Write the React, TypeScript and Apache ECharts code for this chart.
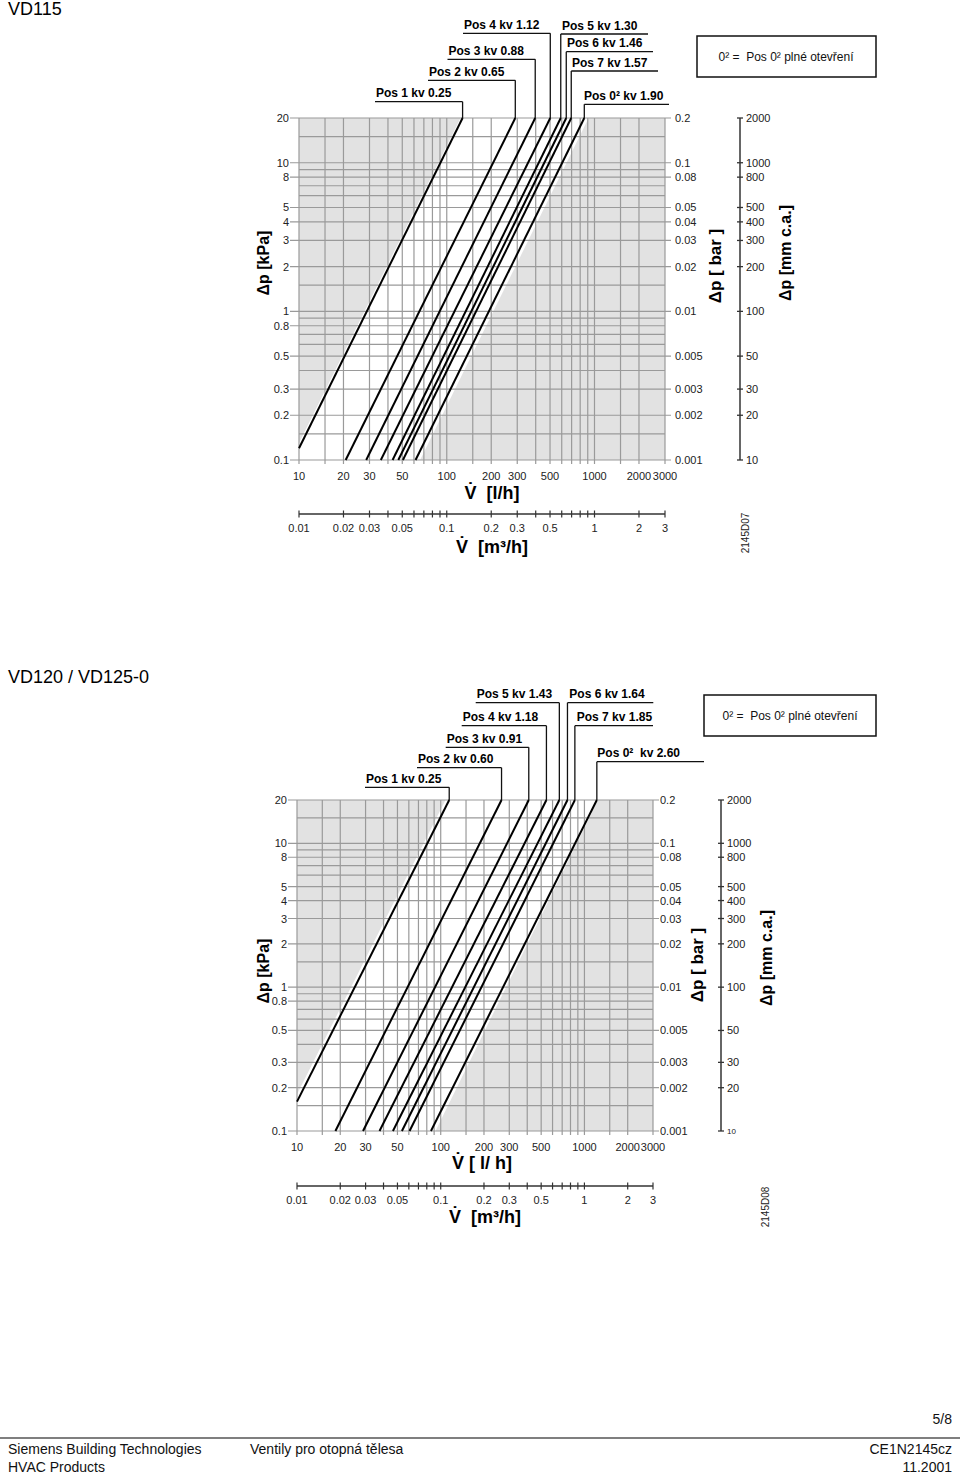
import React, { useEffect, useRef } from 'react';
import * as echarts from 'echarts';

const FONT = '"Liberation Sans", Arial, Helvetica, sans-serif';
const GRAY_BG = '#e2e2e2';
const GRID_COLOR = '#9a9a9a';

// ---- axis values ----
const X_MIN = 10;
const X_MAX = 3000;
const Y_MIN = 0.1;
const Y_MAX = 20;
const flowGridLines = [10, 15, 20, 30, 40, 50, 60, 70, 80, 90, 100, 150, 200, 300, 400, 500, 600, 700, 800, 900, 1000, 1500, 2000, 3000];
const flowLabels = [10, 20, 30, 50, 100, 200, 300, 500, 1000, 2000, 3000];
const dpGridLines = [0.1, 0.15, 0.2, 0.3, 0.4, 0.5, 0.6, 0.7, 0.8, 0.9, 1, 1.5, 2, 3, 4, 5, 6, 7, 8, 9, 10, 15, 20];
const kpaLabels = [20, 10, 8, 5, 4, 3, 2, 1, 0.8, 0.5, 0.3, 0.2, 0.1];
const barLabels = ['0.2', '0.1', '0.08', '0.05', '0.04', '0.03', '0.02', '0.01', '0.005', '0.003', '0.002', '0.001'];
const mmLabels = [2000, 1000, 800, 500, 400, 300, 200, 100, 50, 30, 20, 10];
const m3Ticks = [0.01, 0.02, 0.03, 0.04, 0.05, 0.06, 0.07, 0.08, 0.09, 0.1, 0.2, 0.3, 0.4, 0.5, 0.6, 0.7, 0.8, 0.9, 1, 2, 3];
const m3Labels = ['0.01', '0.02', '0.03', '0.05', '0.1', '0.2', '0.3', '0.5', '1', '2', '3'];

// ---- VD115 ----
const vd115Pos = ['1', '2', '3', '4', '5', '6', '7', '0²'];
const vd115Kv = ['0.25', '0.65', '0.88', '1.12', '1.30', '1.46', '1.57', '1.90'];
// [flow l/h, dp kPa] at lower end and upper end of each kv line
const vd115Low = [[10, 0.12], [20.7, 0.1], [28.5, 0.1], [35.8, 0.1], [43, 0.1], [47, 0.1], [50.5, 0.1], [61.5, 0.1]];
const vd115High = [[128, 20], [291, 20], [397, 20], [502, 20], [591, 20], [644, 20], [696, 20], [853, 20]];
const vd115BandLeft = [[10, 0.13], [124, 20]];
const vd115BandRight = [[66, 0.1], [912, 20]];

// ---- VD120 / VD125-0 ----
const vd120Pos = ['1', '2', '3', '4', '5', '6', '7', '0² '];
const vd120Kv = ['0.25', '0.60', '0.91', '1.18', '1.43', '1.64', '1.85', '2.60'];
const vd120Low = [[10, 0.16], [18.5, 0.1], [28.8, 0.1], [37.5, 0.1], [46.5, 0.1], [53.7, 0.1], [60.7, 0.1], [85.5, 0.1]];
const vd120High = [[114.6, 20], [265, 20], [410, 20], [544, 20], [669, 20], [762, 20], [858, 20], [1220, 20]];
const vd120BandLeft = [[10, 0.18], [108, 20]];
const vd120BandRight = [[92, 0.1], [1245, 20]];

// ---- layout (pixels) ----
type Lay = { ul: number; tx: number; side: 'L' | 'R'; end?: number };
const vd115LabelLayout: Lay[] = [
  { ul: 101.7, tx: 376, side: 'L' },
  { ul: 80.3, tx: 429, side: 'L' },
  { ul: 59.3, tx: 448.5, side: 'L' },
  { ul: 33.3, tx: 464, side: 'L' },
  { ul: 34, tx: 562, side: 'R', end: 648 },
  { ul: 51.7, tx: 567, side: 'R', end: 653 },
  { ul: 71, tx: 572, side: 'R', end: 658 },
  { ul: 104.3, tx: 584, side: 'R', end: 669 },
];
const vd120LabelLayout: Lay[] = [
  { ul: 787.3, tx: 366, side: 'L' },
  { ul: 767.7, tx: 418, side: 'L' },
  { ul: 747.3, tx: 446.7, side: 'L' },
  { ul: 725.7, tx: 462.7, side: 'L' },
  { ul: 702.7, tx: 476.7, side: 'L' },
  { ul: 702.7, tx: 569.3, side: 'R', end: 653.3 },
  { ul: 725.7, tx: 576.7, side: 'R', end: 653 },
  { ul: 761.7, tx: 597.3, side: 'R', end: 704 },
];

type Cfg = {
  pos: string[]; kv: string[]; low: number[][]; high: number[][];
  bandLeft: number[][]; bandRight: number[][]; layout: Lay[];
  rightGap: number; m3Gap: number; mmX: number; mmSmall: boolean;
};

const same = (a: number, b: number) => Math.abs(Math.log10(a) - Math.log10(b)) < 1e-6;

function txt(text: string, x: number, y: number, o: any = {}) {
  const align = o.align || 'left';
  const va = o.va || 'middle';
  return {
    type: 'text', x, y, rotation: o.rot || 0, silent: true,
    style: {
      text, fill: o.fill || '#111', fontSize: o.size || 11, fontWeight: o.weight || 'normal', fontFamily: FONT,
      align, verticalAlign: va, textAlign: align, textVerticalAlign: va,
    },
  };
}
function seg(x1: number, y1: number, x2: number, y2: number, stroke: string, lw: number) {
  return { type: 'line', silent: true, shape: { x1, y1, x2, y2 }, style: { stroke, lineWidth: lw } };
}

function makeRender(cfg: Cfg) {
  return (params: any, api: any) => {
    const c = (v: number, p: number) => api.coord([v, p]);
    const ch: any[] = [];
    const tl = c(X_MIN, Y_MAX);
    const br = c(X_MAX, Y_MIN);
    const L = tl[0], T = tl[1], R = br[0], B = br[1];
    ch.push({ type: 'rect', silent: true, shape: { x: L, y: T, width: R - L, height: B - T }, style: { fill: GRAY_BG } });
    const band = [
      c(cfg.bandLeft[0][0], cfg.bandLeft[0][1]),
      c(cfg.bandLeft[1][0], cfg.bandLeft[1][1]),
      c(cfg.bandRight[1][0], cfg.bandRight[1][1]),
      c(cfg.bandRight[0][0], cfg.bandRight[0][1]),
      c(X_MIN, Y_MIN),
    ];
    ch.push({ type: 'polygon', silent: true, shape: { points: band }, style: { fill: '#ffffff' } });
    // vertical grid lines
    flowGridLines.forEach((v) => {
      const x = c(v, Y_MIN)[0];
      ch.push(seg(x, T, x, B + 4, GRID_COLOR, 1.2));
    });
    // horizontal grid lines
    dpGridLines.forEach((p) => {
      const y = c(X_MIN, p)[1];
      const leftLab = kpaLabels.some((k) => same(k, p));
      const rightLab = barLabels.some((b) => same(parseFloat(b) * 100, p));
      ch.push(seg(leftLab ? L - 9 : L, y, rightLab ? R + 6 : R, y, GRID_COLOR, 1.2));
    });
    // left labels (kPa)
    kpaLabels.forEach((k) => {
      const y = c(X_MIN, k)[1];
      ch.push(txt(String(k), L - 10, y, { align: 'right', fill: '#222' }));
    });
    // right labels (bar)
    barLabels.forEach((b) => {
      const y = c(X_MIN, parseFloat(b) * 100)[1];
      ch.push(txt(b, R + cfg.rightGap, y, { align: 'left', fill: '#222' }));
    });
    // x labels (l/h)
    flowLabels.forEach((v) => {
      const x = c(v, Y_MIN)[0];
      ch.push(txt(String(v), x, B + 15.5, { align: 'center', fill: '#222' }));
    });
    // m3/h axis
    const my = B + cfg.m3Gap;
    const mx0 = c(m3Ticks[0] * 1000, Y_MIN)[0];
    const mx1 = c(m3Ticks[m3Ticks.length - 1] * 1000, Y_MIN)[0];
    ch.push(seg(mx0, my, mx1, my, '#333', 1.3));
    m3Ticks.forEach((m) => {
      const x = c(m * 1000, Y_MIN)[0];
      ch.push(seg(x, my - 3.5, x, my + 3.5, '#333', 1.2));
    });
    m3Labels.forEach((m) => {
      const x = c(parseFloat(m) * 1000, Y_MIN)[0];
      ch.push(txt(m, x, my + 13.5, { align: 'center', fill: '#222' }));
    });
    // mm c.a. scale
    const ty = c(X_MIN, mmLabels[0] / 100)[1];
    const by = c(X_MIN, mmLabels[mmLabels.length - 1] / 100)[1];
    ch.push(seg(cfg.mmX, ty, cfg.mmX, by, '#333', 1.5));
    mmLabels.forEach((mm, i) => {
      const y = c(X_MIN, mm / 100)[1];
      ch.push(seg(cfg.mmX - 3, y, cfg.mmX + 3, y, '#333', 1.3));
      const small = cfg.mmSmall && i === mmLabels.length - 1;
      ch.push(txt(String(mm), cfg.mmX + 6, y, { align: 'left', fill: '#222', size: small ? 8 : 11 }));
    });
    // kv leaders and labels
    cfg.high.forEach((h, i) => {
      const p = c(h[0], h[1]);
      const lay = cfg.layout[i];
      ch.push(seg(p[0], p[1], p[0], lay.ul, '#111', 1.3));
      if (lay.side === 'L') ch.push(seg(lay.tx - 1, lay.ul, p[0], lay.ul, '#111', 1.3));
      else ch.push(seg(p[0], lay.ul, lay.end as number, lay.ul, '#111', 1.3));
      ch.push(txt(`Pos ${cfg.pos[i]} kv ${cfg.kv[i]}`, lay.tx, lay.ul - 8.5, { weight: 'bold', size: 12, fill: '#000' }));
    });
    return { type: 'group', children: ch };
  };
}

const charts: Cfg[] = [
  { pos: vd115Pos, kv: vd115Kv, low: vd115Low, high: vd115High, bandLeft: vd115BandLeft, bandRight: vd115BandRight, layout: vd115LabelLayout, rightGap: 10, m3Gap: 54, mmX: 740, mmSmall: false },
  { pos: vd120Pos, kv: vd120Kv, low: vd120Low, high: vd120High, bandLeft: vd120BandLeft, bandRight: vd120BandRight, layout: vd120LabelLayout, rightGap: 7, m3Gap: 55, mmX: 721, mmSmall: true },
];

function buildOption() {
  const series: any[] = [];
  charts.forEach((cfg, gi) => {
    series.push({
      type: 'custom', xAxisIndex: gi, yAxisIndex: gi, silent: true, clip: false, z: 1,
      data: [[100, 1]], encode: { x: 0, y: 1 },
      renderItem: makeRender(cfg),
    });
    cfg.low.forEach((lo, i) => {
      series.push({
        type: 'line', xAxisIndex: gi, yAxisIndex: gi, silent: true, z: 3,
        symbol: 'none', data: [lo, cfg.high[i]],
        lineStyle: { color: '#000', width: 2 },
      });
    });
  });
  const V = 'V\u0307';
  const graphic: any[] = [
    txt('VD115', 8, 9, { size: 18, fill: '#000' }),
    txt('VD120 / VD125-0', 8, 677, { size: 18, fill: '#000' }),
    // legend boxes
    { type: 'rect', silent: true, shape: { x: 697, y: 36, width: 179, height: 41 }, style: { fill: 'none', stroke: '#111', lineWidth: 1.5 } },
    txt('0² =  Pos 0² plné otevření', 786, 56.5, { align: 'center', size: 12, fill: '#111' }),
    { type: 'rect', silent: true, shape: { x: 704, y: 695, width: 172, height: 41 }, style: { fill: 'none', stroke: '#111', lineWidth: 1.5 } },
    txt('0² =  Pos 0² plné otevření', 790, 715.5, { align: 'center', size: 12, fill: '#111' }),
    // axis names chart 1
    txt('Δp [kPa]', 263, 263, { align: 'center', size: 16, weight: 'bold', rot: Math.PI / 2, fill: '#000' }),
    txt('Δp [ bar ]', 715, 266, { align: 'center', size: 17, weight: 'bold', rot: Math.PI / 2, fill: '#000' }),
    txt('Δp [mm c.a.]', 785, 253, { align: 'center', size: 16, weight: 'bold', rot: Math.PI / 2, fill: '#000' }),
    txt(`${V}  [l/h]`, 492, 493, { align: 'center', size: 18, weight: 'bold', fill: '#000' }),
    txt(`${V}  [m³/h]`, 492, 547, { align: 'center', size: 18, weight: 'bold', fill: '#000' }),
    txt('2145D07', 745, 533, { align: 'center', size: 10, rot: Math.PI / 2, fill: '#222' }),
    // axis names chart 2
    txt('Δp [kPa]', 263, 971, { align: 'center', size: 16, weight: 'bold', rot: Math.PI / 2, fill: '#000' }),
    txt('Δp [ bar ]', 697, 965, { align: 'center', size: 17, weight: 'bold', rot: Math.PI / 2, fill: '#000' }),
    txt('Δp [mm c.a.]', 766, 958, { align: 'center', size: 16, weight: 'bold', rot: Math.PI / 2, fill: '#000' }),
    txt(`${V} [ l/ h]`, 482, 1163, { align: 'center', size: 18, weight: 'bold', fill: '#000' }),
    txt(`${V}  [m³/h]`, 485, 1217, { align: 'center', size: 18, weight: 'bold', fill: '#000' }),
    txt('2145D08', 765, 1207, { align: 'center', size: 10, rot: Math.PI / 2, fill: '#222' }),
    // footer
    txt('5/8', 952, 1419, { align: 'right', size: 14, fill: '#111' }),
    seg(0, 1438, 960, 1438, '#555', 1.5),
    txt('Siemens Building Technologies', 8, 1449, { size: 14, fill: '#111' }),
    txt('HVAC Products', 8, 1467, { size: 14, fill: '#111' }),
    txt('Ventily pro otopná tělesa', 250, 1449, { size: 14, fill: '#111' }),
    txt('CE1N2145cz', 952, 1449, { align: 'right', size: 14, fill: '#111' }),
    txt('11.2001', 952, 1467, { align: 'right', size: 14, fill: '#111' }),
  ];
  const axisCommon = { type: 'log', logBase: 10, axisLine: { show: false }, axisTick: { show: false }, axisLabel: { show: false }, splitLine: { show: false } };
  return {
    animation: false,
    backgroundColor: '#ffffff',
    grid: [
      { left: 299, top: 118, width: 366, height: 342, show: false },
      { left: 297, top: 800, width: 356, height: 331, show: false },
    ],
    xAxis: [0, 1].map((i) => ({ ...axisCommon, gridIndex: i, min: X_MIN, max: X_MAX })),
    yAxis: [0, 1].map((i) => ({ ...axisCommon, gridIndex: i, min: Y_MIN, max: Y_MAX })),
    graphic,
    series,
  };
}

export default function App() {
  const ref = useRef<HTMLDivElement>(null);
  useEffect(() => {
    if (!ref.current) return;
    const chart = echarts.init(ref.current, undefined, { renderer: 'svg' });
    chart.setOption(buildOption() as any);
    return () => chart.dispose();
  }, []);
  return <div ref={ref} style={{ position: 'absolute', left: 0, top: 0, width: 960, height: 1475, background: '#fff' }} />;
}
